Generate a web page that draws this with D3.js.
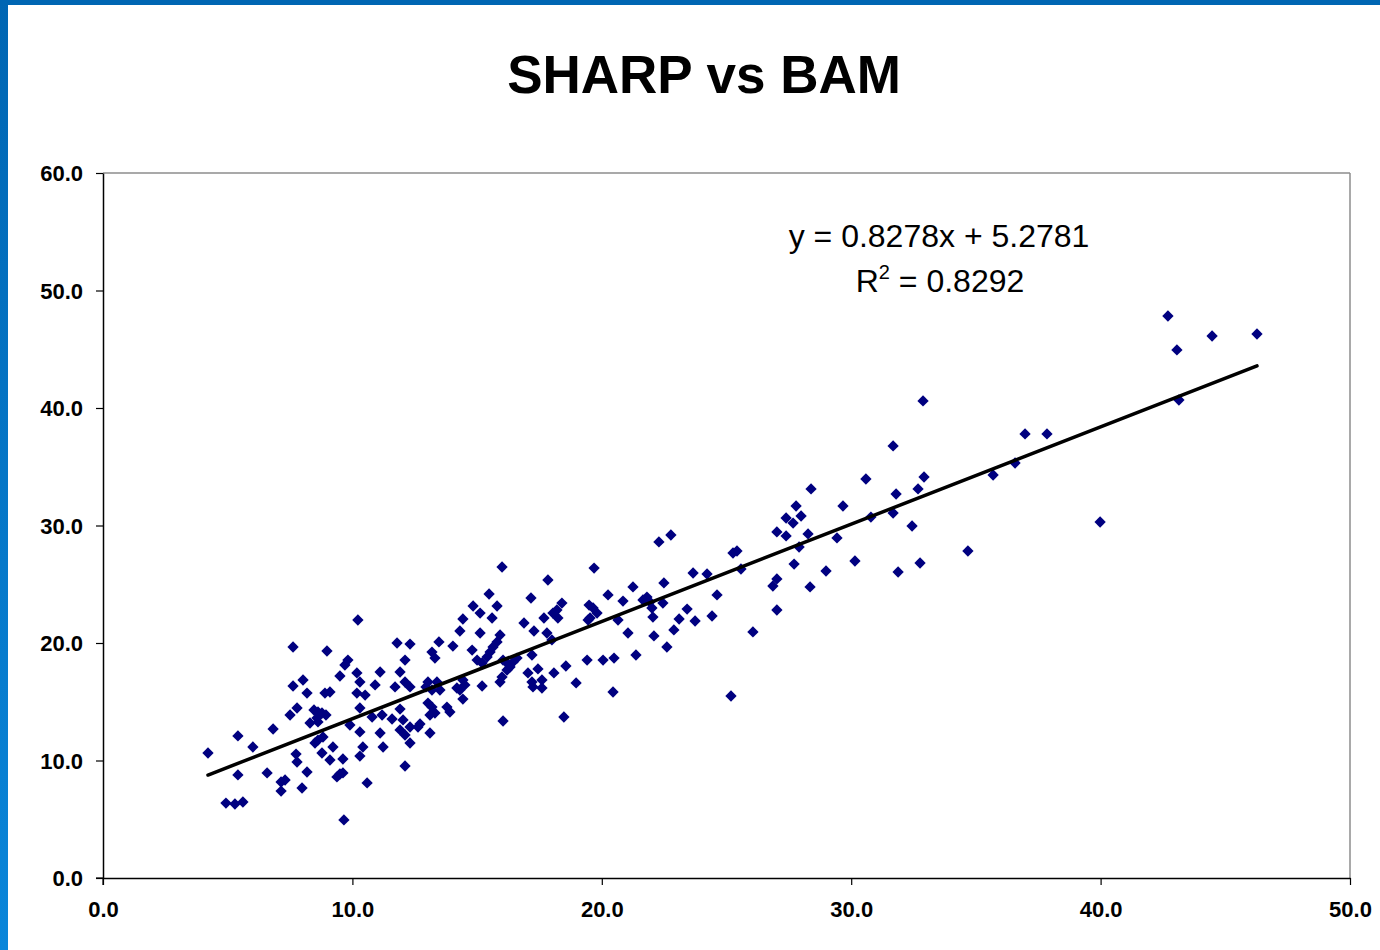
<!DOCTYPE html>
<html>
<head>
<meta charset="utf-8">
<script src="https://cdn.jsdelivr.net/npm/d3@7"></script>
<style>
  html, body { margin: 0; padding: 0; background: #ffffff; }
  svg { display: block; }
</style>
</head>
<body>
<svg id="chart" width="1380" height="950"></svg>
<script>
// ---- data (BAM on x, SHARP on y) ----
const bam = [
  4.21, 4.93, 5.29, 5.61, 5.41, 5.41, 6.01, 6.58, 6.82, 7.14, 7.30, 7.14, 7.50, 7.62, 7.62, 7.78, 8.02, 8.18,
  7.74, 7.78, 7.98, 8.18, 8.30, 8.46, 8.62, 8.58, 8.78, 8.94, 8.62, 8.90, 9.10, 8.98, 8.50, 8.62, 8.82, 8.78,
  9.10, 9.22, 9.38, 9.50, 9.62, 9.62, 9.50, 9.70, 9.82, 9.66, 9.90, 10.22,
  10.18, 10.30, 10.18, 10.51, 10.30, 10.30, 10.42, 10.30, 10.59, 11.11, 10.91, 10.79, 11.19, 11.11, 11.23,
  11.79, 12.31, 12.11, 11.91, 11.71, 12.11, 12.31, 11.59, 11.91, 12.03, 11.91, 12.11, 12.31, 12.63, 12.71,
  12.31, 12.11, 13.11, 12.95, 13.03, 13.19, 13.39, 13.51, 13.19, 13.31, 13.47, 13.03, 13.19, 13.31, 13.79,
  13.91, 14.03, 14.43, 14.31, 14.84, 15.12, 15.48, 15.80, 15.12, 15.60, 14.80, 15.00, 15.20, 15.92, 15.80,
  15.64, 15.52, 15.40, 16.04, 16.20, 16.32, 16.44, 16.60, 16.20, 16.00, 15.92, 14.43, 14.51, 14.31, 14.19,
  14.43, 15.20, 16.04, 13.11,
  16.00, 19.69, 17.84, 17.16, 18.40, 18.20, 18.04, 18.24, 17.68, 16.88, 17.28, 17.80, 18.00, 19.49, 19.65,
  19.81, 19.53, 19.45, 20.25, 20.85, 20.65, 21.25, 21.81, 21.93, 22.01, 21.65, 22.49, 22.45, 22.05, 21.05,
  22.09, 22.61, 17.20, 17.04, 17.44, 17.20, 17.24, 17.60, 17.60, 18.08, 18.56, 18.97, 19.41, 20.05, 20.49,
  21.37, 20.45, 18.48,
  27.79, 29.67, 27.39, 27.67, 27.99, 27.02, 27.39, 28.27, 29.43, 27.91, 22.29, 22.77, 25.26, 25.42, 25.58,
  27.71, 28.99, 23.66, 24.22, 27.02, 26.86, 28.35, 24.62, 23.42, 23.10, 23.74, 24.42, 27.02, 22.89, 26.06,
  25.18,
  32.88, 31.68, 36.97, 37.85, 35.69, 36.57, 30.59, 32.92, 32.68, 31.80, 28.39, 30.79, 31.68, 32.44, 30.15,
  31.88, 32.76, 34.68,
  42.70, 44.47, 46.27, 43.06, 43.14, 39.98
];
const sharp = [
  10.64, 6.38, 6.30, 6.47, 12.09, 8.77, 11.15, 8.94, 12.68, 7.40, 8.34, 8.17, 13.87, 19.66, 16.34, 14.47, 16.85, 15.74,
  10.55, 9.87, 7.66, 9.02, 13.19, 14.30, 14.13, 13.62, 14.04, 13.87, 13.28, 15.74, 15.83, 19.32, 11.49, 11.74, 12.00, 10.64,
  10.04, 11.15, 8.60, 8.85, 8.94, 10.13, 17.19, 18.13, 18.55, 4.94, 13.02, 21.96,
  17.45, 16.68, 15.74, 15.57, 14.47, 12.43, 11.15, 10.38, 8.09, 17.53, 16.43, 13.70, 13.87, 12.34, 11.15,
  20.00, 19.91, 18.55, 17.53, 16.26, 16.68, 16.26, 13.53, 14.38, 13.45, 12.60, 12.17, 12.85, 12.85, 13.11,
  11.49, 9.53, 12.34, 16.26, 16.68, 16.00, 16.68, 16.00, 19.23, 18.72, 20.09, 14.89, 14.55, 14.04, 14.55,
  14.13, 19.74, 22.04, 21.02, 23.15, 22.55, 24.17, 23.15, 20.85, 22.13, 19.40, 18.55, 18.30, 20.68, 20.09,
  19.66, 19.23, 18.81, 18.55, 18.30, 17.96, 18.38, 18.72, 17.70, 17.11, 16.68, 16.85, 16.43, 16.00, 16.17,
  15.23, 16.34, 13.36, 13.87,
  26.47, 26.38, 25.36, 23.83, 23.40, 22.81, 22.55, 22.13, 22.13, 21.70, 21.02, 20.85, 20.26, 23.23, 22.98,
  22.55, 22.13, 21.96, 24.09, 23.57, 21.96, 24.77, 23.91, 23.49, 22.98, 23.66, 25.11, 23.40, 22.21, 20.85,
  20.60, 19.66, 18.98, 17.45, 17.79, 16.68, 16.26, 16.85, 16.17, 17.45, 18.04, 16.60, 18.55, 18.55, 18.72,
  18.98, 15.83, 13.70,
  31.66, 31.66, 30.64, 30.21, 30.81, 29.45, 29.11, 29.28, 28.94, 28.17, 28.60, 29.19, 27.66, 27.83, 26.30,
  26.72, 26.13, 25.96, 25.87, 25.45, 24.85, 24.77, 24.09, 22.89, 22.04, 21.87, 22.30, 22.81, 21.11, 20.94,
  15.49,
  40.60, 36.77, 37.79, 37.79, 34.30, 35.32, 33.96, 34.13, 33.11, 32.68, 33.11, 30.72, 31.06, 29.96, 26.98,
  26.04, 26.81, 27.83,
  47.83, 46.13, 46.30, 44.94, 40.68, 30.30
];
const xTicks = [0, 10, 20, 30, 40, 50];
const yTicks = [0, 10, 20, 30, 40, 50, 60];
const trendSlope = 0.8278;
const trendIntercept = 5.2781;
const titleText = "SHARP vs BAM";
const eqText = "y = 0.8278x + 5.2781";
const r2Value = "0.8292";

// ---- layout ----
const W = 1380, H = 950;
const plot = { left: 103, right: 1350, top: 173, bottom: 878 };
const svg = d3.select("#chart");

// blue frame
const defs = svg.append("defs");
const grad = defs.append("linearGradient").attr("id", "leftBar")
  .attr("x1", 0).attr("y1", 0).attr("x2", 0).attr("y2", 1);
grad.append("stop").attr("offset", "0%").attr("stop-color", "#0066B3");
grad.append("stop").attr("offset", "100%").attr("stop-color", "#0A86DA");
svg.append("rect").attr("x", 0).attr("y", 0).attr("width", W).attr("height", H).attr("fill", "#ffffff");
svg.append("rect").attr("x", 0).attr("y", 0).attr("width", W).attr("height", 5).attr("fill", "#0066B3");
svg.append("rect").attr("x", 0).attr("y", 0).attr("width", 8).attr("height", H).attr("fill", "url(#leftBar)");

const x = d3.scaleLinear().domain([0, 50]).range([plot.left, plot.right]);
const y = d3.scaleLinear().domain([0, 60]).range([plot.bottom, plot.top]);

// title
svg.append("text")
  .attr("x", 704).attr("y", 93)
  .attr("text-anchor", "middle")
  .attr("font-family", "Liberation Sans, Arial, sans-serif")
  .attr("font-weight", "bold")
  .attr("font-size", 53)
  .attr("fill", "#000")
  .text(titleText);

// plot frame (top/right gray)
svg.append("line").attr("x1", plot.left).attr("x2", plot.right).attr("y1", plot.top).attr("y2", plot.top)
  .attr("stroke", "#8c8c8c").attr("stroke-width", 1.5);
svg.append("line").attr("x1", plot.right).attr("x2", plot.right).attr("y1", plot.top).attr("y2", plot.bottom)
  .attr("stroke", "#8c8c8c").attr("stroke-width", 1.5);

// axes
const fmt = d3.format(".1f");
const yAxis = svg.append("g").attr("transform", `translate(${plot.left},0)`)
  .call(d3.axisLeft(y).tickValues(yTicks).tickFormat(fmt).tickSize(7).tickSizeOuter(0).tickPadding(13));
const xAxis = svg.append("g").attr("transform", `translate(0,${plot.bottom})`)
  .call(d3.axisBottom(x).tickValues(xTicks).tickFormat(fmt).tickSize(7).tickSizeOuter(0).tickPadding(16));
[xAxis, yAxis].forEach(g => {
  g.select(".domain").attr("stroke", "#000").attr("stroke-width", 1.5);
  g.selectAll(".tick line").attr("stroke", "#000").attr("stroke-width", 1.2);
  g.selectAll(".tick text")
    .attr("font-family", "Liberation Sans, Arial, sans-serif")
    .attr("font-weight", "bold")
    .attr("font-size", 22)
    .attr("fill", "#000");
});
yAxis.selectAll(".tick text").attr("dy", "0.35em");
xAxis.selectAll(".tick text").attr("dy", "0.71em");
// extend left axis below baseline (tick)
svg.append("line").attr("x1", plot.left).attr("x2", plot.left).attr("y1", plot.bottom).attr("y2", plot.bottom + 7)
  .attr("stroke", "#000").attr("stroke-width", 1.2);
svg.append("line").attr("x1", plot.left - 7).attr("x2", plot.left).attr("y1", plot.bottom).attr("y2", plot.bottom)
  .attr("stroke", "#000").attr("stroke-width", 1.2);

// points
const pts = bam.map((b, i) => ({ b, s: sharp[i] }));
const diamond = d3.symbol().type(d3.symbolSquare).size(64)();
svg.append("g").selectAll("path").data(pts).join("path")
  .attr("d", diamond)
  .attr("transform", d => `translate(${x(d.b)},${y(d.s)}) rotate(45)`)
  .attr("fill", "#000080");

// trend line
const xMin = d3.min(bam), xMax = d3.max(bam);
svg.append("line")
  .attr("x1", x(xMin)).attr("y1", y(trendSlope * xMin + trendIntercept))
  .attr("x2", x(xMax)).attr("y2", y(trendSlope * xMax + trendIntercept))
  .attr("stroke", "#000").attr("stroke-width", 3.5).attr("stroke-linecap", "round");

// equation
const eq = svg.append("g").attr("font-family", "Liberation Sans, Arial, sans-serif").attr("font-size", 32).attr("fill", "#000");
eq.append("text").attr("x", 939).attr("y", 247).attr("text-anchor", "middle").text(eqText);
const r2 = eq.append("text").attr("x", 940).attr("y", 292).attr("text-anchor", "middle");
r2.append("tspan").text("R");
r2.append("tspan").attr("dy", -13).attr("font-size", 20).text("2");
r2.append("tspan").attr("dy", 13).text(" = " + r2Value);
</script>
</body>
</html>
